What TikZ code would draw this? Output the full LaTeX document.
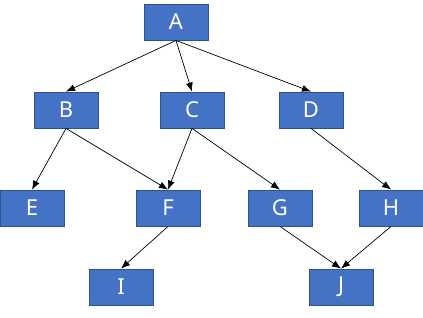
\documentclass[tikz,border=0pt]{standalone}
\usepackage{fontspec}
\setmainfont{Noto Sans}
\usetikzlibrary{arrows.meta}

\definecolor{boxblue}{HTML}{4472C4}
\definecolor{boxedge}{HTML}{2F528F}

\begin{document}
\begin{tikzpicture}[x=1pt, y=-1pt,
	box/.style={draw=boxedge, fill=boxblue, text=white, line width=0.8pt,
		minimum width=64pt, minimum height=36pt, inner sep=0pt,
		font=\fontsize{22}{24}\selectfont},
	edge/.style={-{Latex[length=9pt,width=7pt]}, line width=0.7pt}]
	\useasboundingbox (0,0) rectangle (423,317);

	\node [box] (a) at (176,22) {A};

	\node [box] (b) at (66,110) {B};
	\node [box] (c) at (192,110) {C};
	\node [box] (d) at (311,110) {D};

	\node [box] (e) at (32,208) {E};
	\node [box] (f) at (168,208) {F};
	\node [box] (g) at (280,208) {G};
	\node [box] (h) at (391,208) {H};

	\node [box] (i) at (121,287) {I};
	\node [box] (j) at (341,287) {J};

	\foreach \p/\c in {a/b,a/c,a/d,b/e,b/f,c/f,c/g,d/h,f/i,g/j,h/j}
		\draw [edge] (\p.south) -- (\c.north);
\end{tikzpicture}
\end{document}
